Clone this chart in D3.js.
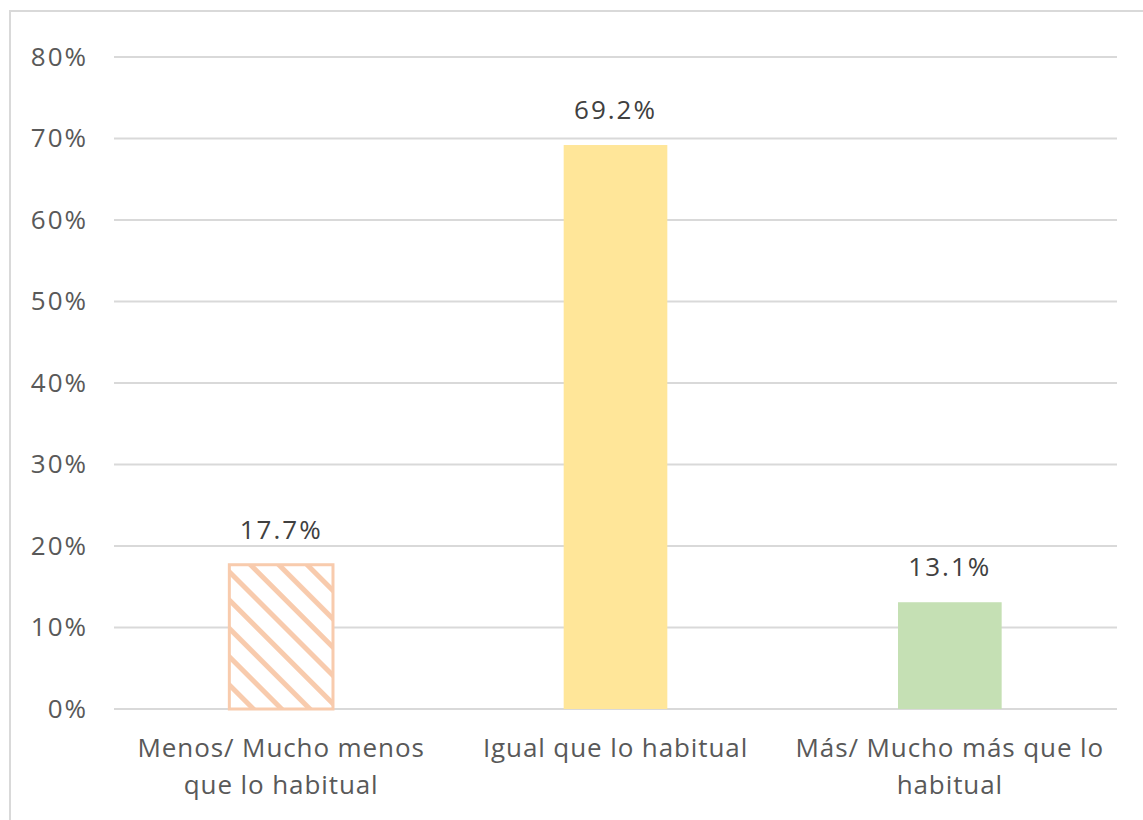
<!DOCTYPE html>
<html>
<head>
<meta charset="utf-8">
<script src="https://cdn.jsdelivr.net/npm/d3@7"></script>
<style>
  body { margin: 0; background: #fff; }
  text { font-family: "Open Sans", sans-serif; fill: #595959; }
</style>
</head>
<body>
<div id="chart"></div>
<script>
// data
const CATEGORIES = ["Menos/ Mucho menos que lo habitual", "Igual que lo habitual", "Más/ Mucho más que lo habitual"];
const CATEGORY_LINES = [["Menos/ Mucho menos", "que lo habitual"], ["Igual que lo habitual"], ["Más/ Mucho más que lo", "habitual"]];
const VALUES = [17.7, 69.2, 13.1];
const Y_TICKS = [0, 10, 20, 30, 40, 50, 60, 70, 80];

let FRAME_WIDTH = 1143;
let FRAME_HEIGHT = 820;
let MARGINS = {left: 114, right: 26, top: 57, bottom: 111};

let PLOT_WIDTH = FRAME_WIDTH - MARGINS.left - MARGINS.right;
let PLOT_HEIGHT = FRAME_HEIGHT - MARGINS.top - MARGINS.bottom;

const SVG = d3.select("#chart")
              .append("svg")
              .attr("width", FRAME_WIDTH)
              .attr("height", FRAME_HEIGHT);

// hatch pattern for first bar
const defs = SVG.append("defs");
const pat = defs.append("pattern")
                .attr("id", "hatch")
                .attr("patternUnits", "userSpaceOnUse")
                .attr("width", 20)
                .attr("height", 20)
                .attr("patternTransform", "rotate(45)");
pat.append("rect").attr("width", 20).attr("height", 20).attr("fill", "#fff");
pat.append("rect").attr("width", 20).attr("height", 5).attr("fill", "#f8cbad");

// outer border
SVG.append("rect")
   .attr("x", 10).attr("y", 11)
   .attr("width", FRAME_WIDTH + 20).attr("height", FRAME_HEIGHT + 20)
   .attr("fill", "none")
   .attr("stroke", "#d9d9d9")
   .attr("stroke-width", 2);

const X_SCALE = d3.scaleBand()
                  .domain(CATEGORIES)
                  .range([0, PLOT_WIDTH]);

const Y_SCALE = d3.scaleLinear()
                  .domain([0, 80])
                  .range([PLOT_HEIGHT, 0]);

const G = SVG.append("g")
             .attr("transform", "translate(" + MARGINS.left + "," + MARGINS.top + ")");

// gridlines
G.append("g")
 .selectAll("line")
 .data(Y_TICKS)
 .enter()
 .append("line")
   .attr("x1", 0)
   .attr("x2", PLOT_WIDTH)
   .attr("y1", (d) => Y_SCALE(d))
   .attr("y2", (d) => Y_SCALE(d))
   .attr("stroke", "#d9d9d9")
   .attr("stroke-width", 2);

// y axis labels
const yAxis = G.append("g")
               .call(d3.axisLeft(Y_SCALE).tickValues(Y_TICKS).tickFormat((d) => d + "%").tickSize(0).tickPadding(26));
yAxis.select(".domain").remove();
yAxis.attr("font-size", null).attr("font-family", null);
yAxis.selectAll("text")
     .attr("font-size", "26px")
     .attr("letter-spacing", "2px")
     .attr("fill", "#595959");

// bars
const FILLS = ["url(#hatch)", "#ffe699", "#c5e0b4"];
const BAR_W = X_SCALE.bandwidth() * 0.31;

G.selectAll(".bar")
 .data(VALUES)
 .enter()
 .append("rect")
   .attr("class", "bar")
   .attr("x", (d, i) => X_SCALE(CATEGORIES[i]) + (X_SCALE.bandwidth() - BAR_W) / 2)
   .attr("y", (d) => Y_SCALE(d))
   .attr("width", BAR_W)
   .attr("height", (d) => PLOT_HEIGHT - Y_SCALE(d))
   .attr("fill", (d, i) => FILLS[i])
   .attr("stroke", (d, i) => i === 0 ? "#f8cbad" : "none")
   .attr("stroke-width", 3);

// data labels
G.selectAll(".lbl")
 .data(VALUES)
 .enter()
 .append("text")
   .attr("class", "lbl")
   .attr("x", (d, i) => X_SCALE(CATEGORIES[i]) + X_SCALE.bandwidth() / 2)
   .attr("y", (d) => Y_SCALE(d) - 26)
   .attr("text-anchor", "middle")
   .attr("font-size", "26px")
   .attr("letter-spacing", "2px")
   .style("fill", "#404040")
   .text((d) => d.toFixed(1) + "%");

// category labels
const cats = G.selectAll(".cat")
  .data(CATEGORY_LINES)
  .enter()
  .append("text")
    .attr("class", "cat")
    .attr("x", (d, i) => X_SCALE(CATEGORIES[i]) + X_SCALE.bandwidth() / 2)
    .attr("y", PLOT_HEIGHT + 48)
    .attr("text-anchor", "middle")
    .attr("font-size", "26px")
    .attr("letter-spacing", "0.9px");

cats.selectAll("tspan")
    .data((d) => d)
    .enter()
    .append("tspan")
      .attr("x", function () { return d3.select(this.parentNode).attr("x"); })
      .attr("dy", (d, i) => i === 0 ? 0 : 37)
      .text((d) => d);
</script>
</body>
</html>
